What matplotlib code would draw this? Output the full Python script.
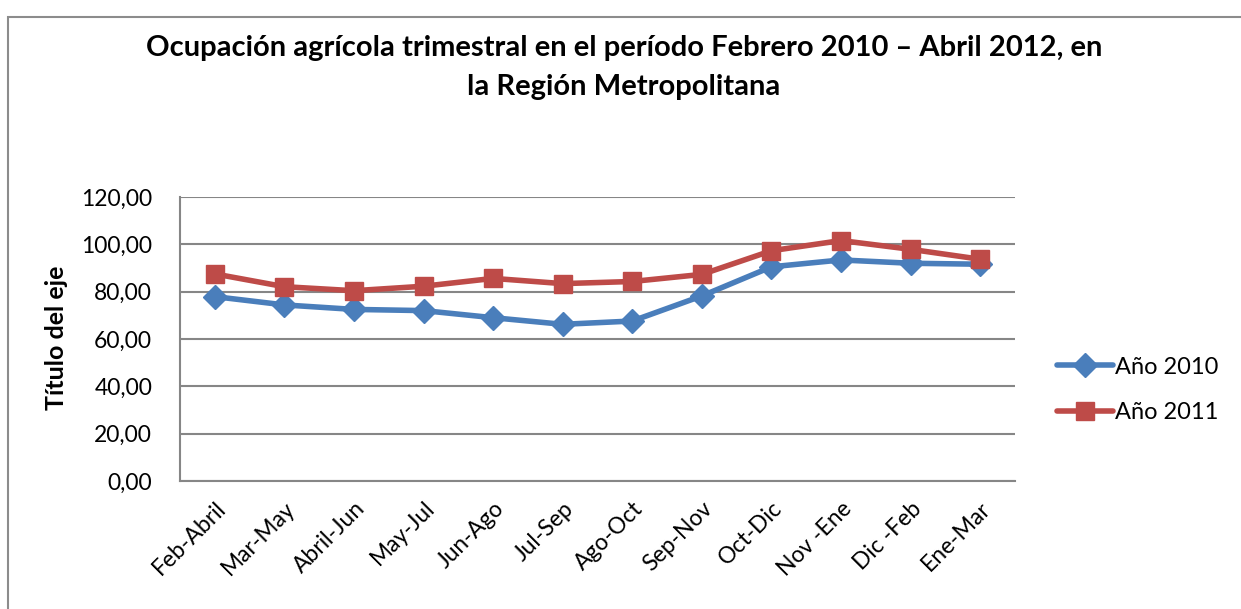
"""Ocupación agrícola trimestral, Región Metropolitana."""

import matplotlib
matplotlib.use("Agg")
from matplotlib import pyplot as plt
from matplotlib.patches import Rectangle

plt.rcParams["font.family"] = ["Lato", "DejaVu Sans"]

periodos = ["Feb-Abril", "Mar-May", "Abril-Jun", "May-Jul", "Jun-Ago", "Jul-Sep",
            "Ago-Oct", "Sep-Nov", "Oct-Dic", "Nov -Ene", "Dic -Feb", "Ene-Mar"]
anio_2010 = [77.9, 74.4, 72.5, 72.0, 69.0, 66.2, 67.6, 78.2, 90.5, 93.4, 92.0, 91.6]
anio_2011 = [87.5, 82.1, 80.4, 82.3, 85.6, 83.4, 84.3, 87.3, 97.3, 101.6, 97.9, 93.7]
y_ticks = [0, 20, 40, 60, 80, 100, 120]

W, H = 1241, 609
fig = plt.figure(figsize=(W / 100, H / 100), dpi=100)
ax = fig.add_axes([180 / W, 1 - 481 / H, (1015 - 180) / W, (481 - 197) / H])

# outer chart frame (cut off at right and bottom)
fig.patches.append(Rectangle((8 / W, -0.1), 1.2, 1 - 17 / H + 0.1,
                             transform=fig.transFigure, fill=False,
                             edgecolor="#8c8c8c", linewidth=1.5))

x = range(len(periodos))
ax.plot(x, anio_2010, color="#4A7EBB", linewidth=4, marker="D",
        markersize=12, label="Año 2010", solid_capstyle="round")
ax.plot(x, anio_2011, color="#BE4B48", linewidth=4, marker="s",
        markersize=13.5, label="Año 2011", solid_capstyle="round")

ax.set_xlim(-0.5, len(periodos) - 0.5)
ax.set_ylim(0, 120)
ax.set_yticks(y_ticks)
ax.set_yticklabels([f"{v:.2f}".replace(".", ",") for v in y_ticks], fontsize=16.5)
ax.set_xticks(list(x))
ax.set_xticklabels(periodos, fontsize=16.5, rotation=45, ha="right",
                   va="top", rotation_mode="anchor")
ax.tick_params(length=0)
ax.tick_params(axis="y", pad=20)
ax.tick_params(axis="x", pad=12)
ax.grid(axis="y", color="#868686", linewidth=1.5)
ax.set_axisbelow(True)
for side in ("top", "right"):
    ax.spines[side].set_visible(False)
for side in ("left", "bottom"):
    ax.spines[side].set_color("#868686")
    ax.spines[side].set_linewidth(1.5)

fig.text(57 / W, 1 - 338 / H, "Título del eje", rotation=90, ha="center",
         va="center", fontsize=18, fontweight="bold")
fig.text(624 / W, 1 - 48 / H, "Ocupación agrícola trimestral en el período "
         "Febrero 2010 – Abril 2012, en", ha="center", va="center",
         fontsize=21, fontweight="bold")
fig.text(624 / W, 1 - 87 / H, "la Región Metropolitana", ha="center",
         va="center", fontsize=21, fontweight="bold")

fig.legend(loc="center left", bbox_to_anchor=(1036 / W, 1 - 390 / H),
           frameon=False, fontsize=17, handlelength=2.35, handletextpad=0.1,
           labelspacing=1.05)

fig.savefig("out.png", dpi=100)
